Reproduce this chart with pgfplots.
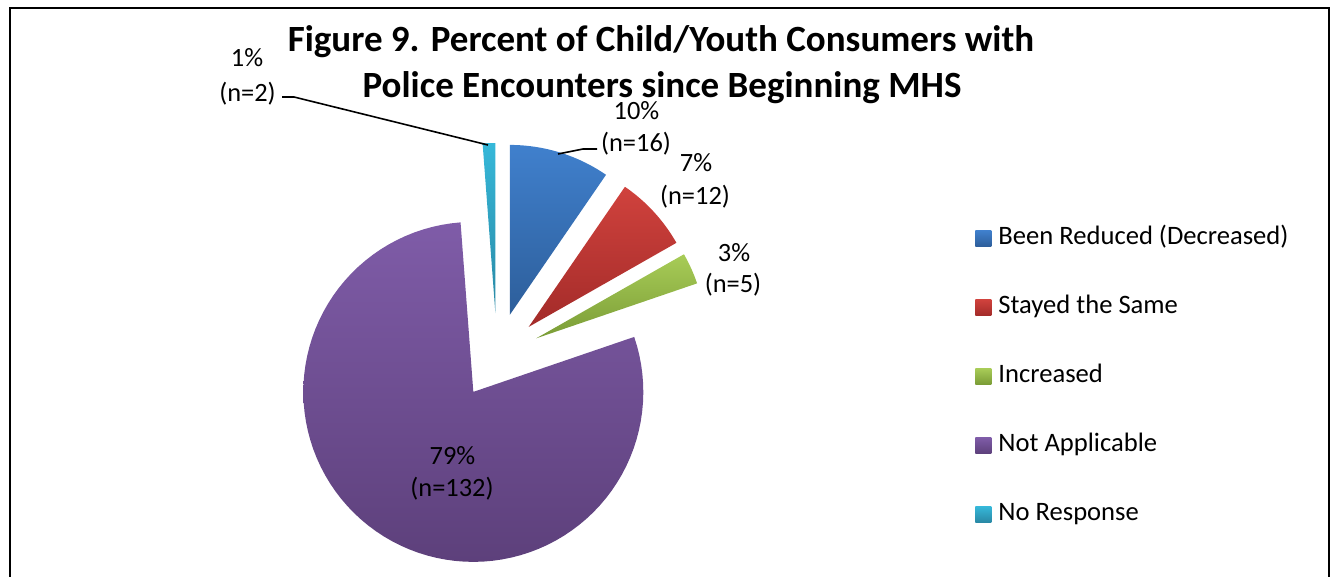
\documentclass[border=0pt]{standalone}
\usepackage{fontspec}
\setmainfont{Carlito}
\usepackage{pgfplots}
\usepackage{pgfplotstable}
\pgfplotsset{compat=1.18}

\pgfplotstableread{
label value
A 16
B 12
C 5
D 132
E 2
}\piedata

\definecolor{bluetop}{HTML}{4080CD}
\definecolor{bluebot}{HTML}{2D5E9A}
\definecolor{redtop}{HTML}{D0423D}
\definecolor{redbot}{HTML}{A32B29}
\definecolor{greentop}{HTML}{A8CC57}
\definecolor{greenbot}{HTML}{7A9C36}
\definecolor{purpletop}{HTML}{7F5CA8}
\definecolor{purplebot}{HTML}{5D407B}
\definecolor{cyantop}{HTML}{36B8D9}
\definecolor{cyanbot}{HTML}{2988A4}

\pgfplotstablegetelem{0}{value}\of\piedata \let\vA\pgfplotsretval
\pgfplotstablegetelem{1}{value}\of\piedata \let\vB\pgfplotsretval
\pgfplotstablegetelem{2}{value}\of\piedata \let\vC\pgfplotsretval
\pgfplotstablegetelem{3}{value}\of\piedata \let\vD\pgfplotsretval
\pgfplotstablegetelem{4}{value}\of\piedata \let\vE\pgfplotsretval
\pgfmathsetmacro\T{\vA+\vB+\vC+\vD+\vE}
\pgfmathsetmacro\dg{360/\T}
\pgfmathsetmacro\aA{90}
\pgfmathsetmacro\aB{90-\dg*\vA}
\pgfmathsetmacro\aC{90-\dg*(\vA+\vB)}
\pgfmathsetmacro\aD{90-\dg*(\vA+\vB+\vC)}
\pgfmathsetmacro\aE{90-\dg*(\vA+\vB+\vC+\vD)}
\pgfmathsetmacro\aF{90-360}

\newcommand\pieslice[5]{%
 \pgfmathsetmacro\wmid{(#1+#2)/2}%
 \pgfmathsetmacro\ox{497+43*cos(\wmid)}%
 \pgfmathsetmacro\oy{221+43*sin(\wmid)}%
 \edef\temp{\noexpand\addplot[draw=none, top color=#3, bottom color=#4, domain=#2:#1, samples=90, variable=\noexpand\t] ({\ox+170*cos(\noexpand\t)},{\oy+170*sin(\noexpand\t)}) -- (axis cs:\ox,\oy) -- cycle;}%
 \temp
 \addlegendentry{#5}%
}

\begin{document}%
\begin{tikzpicture}
\begin{axis}[
  x=0.5pt, y=0.5pt,
  xmin=0, xmax=1335, ymin=0, ymax=577,
  hide axis, clip=false,
  legend image code/.code={\path[#1] (0pt,-4pt) rectangle (8pt,4pt);},
  legend cell align=left,
  legend style={at={(axis cs:969,200.5)}, anchor=west, draw=none, fill=none,
    font=\fontsize{13.3}{15}\selectfont, row sep=22.5pt,
    nodes={inner ysep=0pt, inner xsep=3.5pt, text height=9pt, text depth=3pt}},
]
\path (axis cs:0,0) rectangle (axis cs:1335,577);
\pieslice{\aA}{\aB}{bluetop}{bluebot}{Been Reduced (Decreased)}
\pieslice{\aB}{\aC}{redtop}{redbot}{Stayed the Same}
\pieslice{\aC}{\aD}{greentop}{greenbot}{Increased}
\pieslice{\aD}{\aE}{purpletop}{purplebot}{Not Applicable}
\pieslice{\aE}{\aF}{cyantop}{cyanbot}{No Response}

\draw[line width=1pt, line cap=butt] (axis cs:10,0) -- (axis cs:10,569) -- (axis cs:1329,569) -- (axis cs:1329,0);

\begin{scope}[font=\fontsize{18.5}{21}\selectfont\bfseries]
\node[anchor=base, inner sep=0pt] at (axis cs:661,525) {Figure 9. Percent of Child/Youth Consumers with};
\node[anchor=base, inner sep=0pt] at (axis cs:662,479) {Police Encounters since Beginning MHS};
\end{scope}

\begin{scope}[font=\fontsize{13.2}{16}\selectfont, every node/.style={anchor=base, inner sep=0pt}]
\node at (axis cs:636.5,457) {10\%};
\node at (axis cs:636,425) {(n=16)};
\node at (axis cs:696,405) {7\%};
\node at (axis cs:695,372) {(n=12)};
\node at (axis cs:734,315) {3\%};
\node at (axis cs:733,284) {(n=5)};
\node at (axis cs:452.5,112) {79\%};
\node at (axis cs:452,80) {(n=132)};
\node at (axis cs:247,510) {1\%};
\node at (axis cs:247.5,475) {(n=2)};
\end{scope}
\draw[line width=0.8pt] (axis cs:282,480) -- (axis cs:294,480) -- (axis cs:488,432);
\draw[line width=0.8pt] (axis cs:558,423) -- (axis cs:583,428) -- (axis cs:597,428);
\end{axis}
\end{tikzpicture}%
\end{document}
